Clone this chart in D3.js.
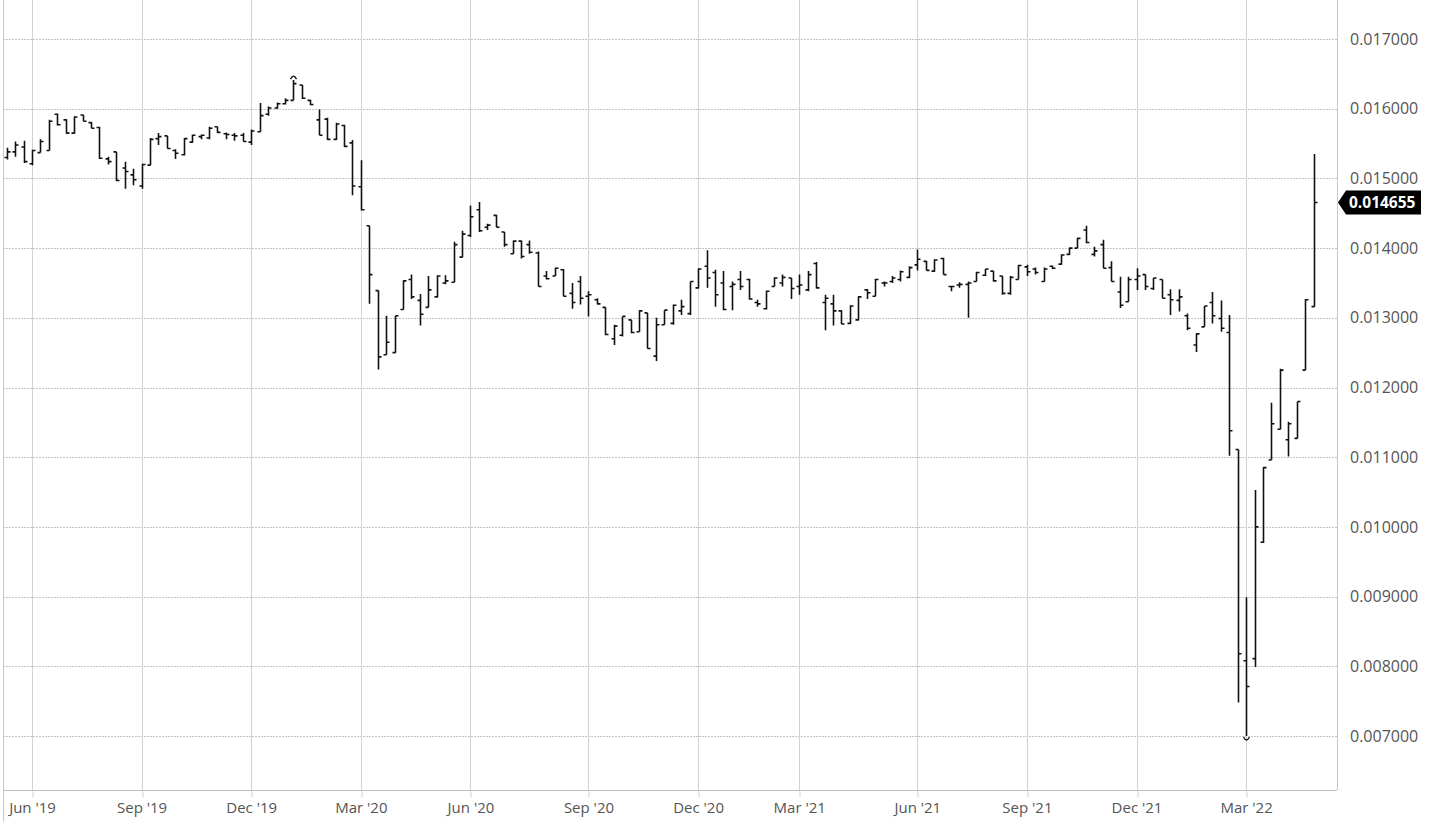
<!DOCTYPE html>
<html>
<head>
<meta charset="utf-8">
<script src="https://cdn.jsdelivr.net/npm/d3@7"></script>
<style>
  body { margin: 0; background: #fff; }
  svg { display: block; font-family: "Open Sans", sans-serif; }
</style>
</head>
<body>
<svg id="chart" width="1430" height="831"></svg>
<script>
// weekly OHLC bars, first bar is the week of 13 May 2019
const firstWeek = new Date(2019, 4, 13);

const openVals = [
  0.01530, 0.01538, 0.01545, 0.01521, 0.01537, 0.01540, 0.01592, 0.01584, 0.01565, 0.01591,
  0.01580, 0.01573, 0.01528, 0.01538, 0.01515, 0.01505, 0.01489, 0.01519, 0.01557, 0.01561,
  0.01540, 0.01534, 0.01552, 0.01560, 0.01558, 0.01574, 0.01564, 0.01562, 0.01562, 0.01552,
  0.01567, 0.01592, 0.01601, 0.01607, 0.01612, 0.01634, 0.01612, 0.01584, 0.01585, 0.01556,
  0.01576, 0.01551, 0.01488, 0.01432, 0.01339, 0.01247, 0.01250, 0.01312, 0.01355, 0.01325,
  0.01315, 0.01330, 0.01350, 0.01351, 0.01387, 0.01418, 0.01455, 0.01430, 0.01447, 0.01423,
  0.01392, 0.01410, 0.01405, 0.01393, 0.01360, 0.01360, 0.01369, 0.01335, 0.01352, 0.01331,
  0.01326, 0.01315, 0.01270, 0.01275, 0.01297, 0.01280, 0.01307, 0.01245, 0.01290, 0.01292,
  0.01310, 0.01306, 0.01343, 0.01374, 0.01365, 0.01350, 0.01345, 0.01355, 0.01355, 0.01322,
  0.01313, 0.01345, 0.01350, 0.01357, 0.01345, 0.01340, 0.01378, 0.01322, 0.01320, 0.01310,
  0.01292, 0.01297, 0.01340, 0.01331, 0.01350, 0.01352, 0.01355, 0.01358, 0.01376, 0.01381,
  0.01367, 0.01385, 0.01345, 0.01347, 0.01348, 0.01352, 0.01361, 0.01367, 0.01360, 0.01335,
  0.01355, 0.01373, 0.01370, 0.01352, 0.01374, 0.01377, 0.01391, 0.01400, 0.01426, 0.01391,
  0.01405, 0.01372, 0.01337, 0.01323, 0.01355, 0.01362, 0.01342, 0.01355, 0.01333, 0.01325,
  0.01303, 0.01261, 0.01287, 0.01322, 0.01299, 0.01279, 0.01111, 0.00808, 0.00811, 0.00978,
  0.01096, 0.01140, 0.01125, 0.01127, 0.01225, 0.01316
];
const highVals = [
  0.01544, 0.01553, 0.01554, 0.01541, 0.01556, 0.01584, 0.01593, 0.01585, 0.01589, 0.01591,
  0.01581, 0.01574, 0.01531, 0.01538, 0.01524, 0.01514, 0.01521, 0.01558, 0.01565, 0.01561,
  0.01542, 0.01558, 0.01563, 0.01563, 0.01574, 0.01574, 0.01566, 0.01565, 0.01565, 0.01570,
  0.01608, 0.01603, 0.01609, 0.01615, 0.01641, 0.01634, 0.01613, 0.01599, 0.01587, 0.01580,
  0.01577, 0.01555, 0.01526, 0.01432, 0.01339, 0.01303, 0.01303, 0.01354, 0.01362, 0.01334,
  0.01360, 0.01361, 0.01361, 0.01409, 0.01425, 0.01461, 0.01466, 0.01435, 0.01448, 0.01423,
  0.01411, 0.01411, 0.01411, 0.01395, 0.01367, 0.01372, 0.01370, 0.01350, 0.01360, 0.01338,
  0.01328, 0.01315, 0.01290, 0.01302, 0.01297, 0.01311, 0.01307, 0.01300, 0.01311, 0.01319,
  0.01326, 0.01352, 0.01371, 0.01397, 0.01369, 0.01367, 0.01352, 0.01367, 0.01356, 0.01326,
  0.01339, 0.01358, 0.01362, 0.01357, 0.01362, 0.01367, 0.01380, 0.01333, 0.01333, 0.01311,
  0.01318, 0.01331, 0.01341, 0.01356, 0.01352, 0.01360, 0.01368, 0.01374, 0.01398, 0.01382,
  0.01384, 0.01386, 0.01346, 0.01351, 0.01352, 0.01366, 0.01370, 0.01367, 0.01360, 0.01360,
  0.01376, 0.01376, 0.01372, 0.01372, 0.01375, 0.01391, 0.01401, 0.01415, 0.01432, 0.01402,
  0.01412, 0.01381, 0.01359, 0.01359, 0.01371, 0.01362, 0.01357, 0.01355, 0.01341, 0.01341,
  0.01306, 0.01278, 0.01317, 0.01337, 0.01325, 0.01304, 0.01111, 0.00899, 0.01053, 0.01086,
  0.01178, 0.01227, 0.01151, 0.01180, 0.01327, 0.01535
];
const lowVals = [
  0.01527, 0.01531, 0.01522, 0.01519, 0.01537, 0.01540, 0.01576, 0.01564, 0.01564, 0.01582,
  0.01572, 0.01528, 0.01520, 0.01496, 0.01485, 0.01490, 0.01485, 0.01519, 0.01548, 0.01543,
  0.01528, 0.01533, 0.01551, 0.01556, 0.01556, 0.01565, 0.01556, 0.01554, 0.01553, 0.01548,
  0.01567, 0.01590, 0.01600, 0.01606, 0.01612, 0.01614, 0.01605, 0.01562, 0.01555, 0.01555,
  0.01545, 0.01476, 0.01454, 0.01320, 0.01226, 0.01247, 0.01250, 0.01312, 0.01327, 0.01289,
  0.01315, 0.01329, 0.01348, 0.01351, 0.01387, 0.01416, 0.01423, 0.01426, 0.01430, 0.01402,
  0.01392, 0.01385, 0.01392, 0.01345, 0.01355, 0.01360, 0.01331, 0.01313, 0.01319, 0.01302,
  0.01319, 0.01275, 0.01261, 0.01273, 0.01278, 0.01280, 0.01256, 0.01238, 0.01290, 0.01290,
  0.01304, 0.01304, 0.01342, 0.01343, 0.01316, 0.01311, 0.01311, 0.01340, 0.01326, 0.01316,
  0.01312, 0.01345, 0.01345, 0.01327, 0.01333, 0.01338, 0.01342, 0.01282, 0.01289, 0.01291,
  0.01291, 0.01296, 0.01327, 0.01331, 0.01345, 0.01350, 0.01352, 0.01357, 0.01368, 0.01368,
  0.01366, 0.01362, 0.01338, 0.01343, 0.01300, 0.01352, 0.01360, 0.01352, 0.01333, 0.01333,
  0.01355, 0.01360, 0.01362, 0.01352, 0.01370, 0.01376, 0.01390, 0.01400, 0.01407, 0.01388,
  0.01371, 0.01352, 0.01314, 0.01323, 0.01340, 0.01340, 0.01340, 0.01328, 0.01304, 0.01309,
  0.01282, 0.01251, 0.01287, 0.01292, 0.01280, 0.01102, 0.00748, 0.00700, 0.00799, 0.00977,
  0.01096, 0.01140, 0.01101, 0.01127, 0.01225, 0.01316
];
const closeVals = [
  0.01538, 0.01548, 0.01524, 0.01540, 0.01553, 0.01582, 0.01577, 0.01565, 0.01588, 0.01582,
  0.01572, 0.01529, 0.01524, 0.01497, 0.01510, 0.01498, 0.01520, 0.01556, 0.01560, 0.01543,
  0.01536, 0.01557, 0.01562, 0.01562, 0.01572, 0.01566, 0.01563, 0.01561, 0.01553, 0.01568,
  0.01590, 0.01601, 0.01607, 0.01612, 0.01636, 0.01615, 0.01606, 0.01562, 0.01556, 0.01578,
  0.01546, 0.01489, 0.01455, 0.01362, 0.01244, 0.01265, 0.01303, 0.01353, 0.01330, 0.01305,
  0.01340, 0.01360, 0.01353, 0.01405, 0.01420, 0.01445, 0.01425, 0.01433, 0.01430, 0.01405,
  0.01410, 0.01388, 0.01394, 0.01345, 0.01356, 0.01371, 0.01331, 0.01322, 0.01328, 0.01333,
  0.01320, 0.01276, 0.01288, 0.01302, 0.01279, 0.01310, 0.01256, 0.01290, 0.01311, 0.01318,
  0.01316, 0.01352, 0.01370, 0.01357, 0.01333, 0.01312, 0.01348, 0.01345, 0.01327, 0.01320,
  0.01338, 0.01357, 0.01358, 0.01342, 0.01347, 0.01362, 0.01343, 0.01328, 0.01310, 0.01291,
  0.01317, 0.01330, 0.01336, 0.01355, 0.01350, 0.01357, 0.01366, 0.01372, 0.01384, 0.01368,
  0.01383, 0.01362, 0.01345, 0.01348, 0.01350, 0.01365, 0.01370, 0.01353, 0.01335, 0.01358,
  0.01375, 0.01366, 0.01365, 0.01370, 0.01371, 0.01390, 0.01400, 0.01414, 0.01408, 0.01396,
  0.01371, 0.01352, 0.01318, 0.01355, 0.01360, 0.01345, 0.01357, 0.01328, 0.01326, 0.01330,
  0.01285, 0.01277, 0.01317, 0.01303, 0.01285, 0.01138, 0.00818, 0.00771, 0.01000, 0.01085,
  0.01148, 0.01225, 0.01148, 0.01180, 0.01326, 0.014655
];

const yTicks = [0.007, 0.008, 0.009, 0.010, 0.011, 0.012, 0.013, 0.014, 0.015, 0.016, 0.017];
const xTickLabels = ["Jun '19", "Sep '19", "Dec '19", "Mar '20", "Jun '20", "Sep '20",
                     "Dec '20", "Mar '21", "Jun '21", "Sep '21", "Dec '21", "Mar '22"];
const lastPrice = 0.014655;

const svg = d3.select('#chart');
const left = 3, right = 1337, bottom = 790;

const n = openVals.length;
const dates = d3.timeMonday.range(firstWeek, d3.timeWeek.offset(firstWeek, n));
const fmtMonth = d3.timeFormat("%b '%y");

// bars sit on an index scale (one slot per week)
const x = d3.scaleLinear().domain([-0.44, 157.78]).range([left, right]);
const y = d3.scaleLinear().domain([0.007, 0.017]).range([736, 39]);

// first bar of each labelled month
const tickIdx = xTickLabels.map(function(lab) {
    return dates.findIndex(function(d) { return fmtMonth(d) === lab; });
});

// grid
svg.append('g')
    .selectAll('line')
    .data(yTicks)
    .enter()
    .append('line')
    .attr('x1', left).attr('x2', right)
    .attr('y1', d => Math.round(y(d)) + 0.5)
    .attr('y2', d => Math.round(y(d)) + 0.5)
    .attr('stroke', '#c4c4c4')
    .attr('stroke-dasharray', '2,1');

svg.append('g')
    .selectAll('line')
    .data(tickIdx)
    .enter()
    .append('line')
    .attr('x1', d => Math.round(x(d)) + 0.5)
    .attr('x2', d => Math.round(x(d)) + 0.5)
    .attr('y1', 0).attr('y2', bottom)
    .attr('stroke', '#d2d2d2');

// frame
svg.append('line').attr('x1', left + 0.5).attr('x2', left + 0.5)
    .attr('y1', 0).attr('y2', 822).attr('stroke', '#c8c8c8');
svg.append('line').attr('x1', right + 0.5).attr('x2', right + 0.5)
    .attr('y1', 0).attr('y2', bottom).attr('stroke', '#c8c8c8');

// bottom axis
const xAxis = d3.axisBottom(x)
    .tickValues(tickIdx)
    .tickFormat(i => fmtMonth(dates[i]))
    .tickSize(7)
    .tickPadding(5);

const gx = svg.append('g')
    .attr('transform', 'translate(0,' + (bottom + 0.5) + ')')
    .call(xAxis);
gx.select('.domain').attr('stroke', '#bdbdbd').attr('d', 'M' + left + ',0H' + right);
gx.selectAll('.tick line').attr('stroke', '#d2d2d2')
    .attr('transform', function(d) { return 'translate(' + (Math.round(x(d)) + 0.5 - x(d)) + ',0)'; });
gx.selectAll('.tick text')
    .attr('fill', '#555')
    .style('font-size', '15px')
    .style('font-family', '"Open Sans", sans-serif');

// right axis
const yAxis = d3.axisRight(y)
    .tickValues(yTicks)
    .tickFormat(d3.format('.6f'))
    .tickSize(0)
    .tickPadding(13);

const gy = svg.append('g')
    .attr('transform', 'translate(' + right + ',0)')
    .call(yAxis);
gy.select('.domain').remove();
gy.selectAll('.tick text')
    .attr('fill', '#555')
    .style('font-size', '16px')
    .style('font-family', '"Open Sans", sans-serif');

// OHLC bars
const tickLen = 3;
svg.append('g')
    .selectAll('path')
    .data(d3.range(n))
    .enter()
    .append('path')
    .attr('d', function(i) {
        var cx = Math.round(x(i)) + 0.5;
        return 'M' + cx + ',' + y(highVals[i]) + 'V' + y(lowVals[i]) +
            'M' + (cx - tickLen) + ',' + y(openVals[i]) + 'H' + cx +
            'M' + cx + ',' + y(closeVals[i]) + 'H' + (cx + tickLen);
    })
    .attr('fill', 'none')
    .attr('stroke', '#111')
    .attr('stroke-width', 1.6);

// markers at the highest high and the lowest low
const iMax = d3.maxIndex(highVals);
const iMin = d3.minIndex(lowVals);
var mx = Math.round(x(iMax)) + 0.5, my = y(highVals[iMax]);
svg.append('path')
    .attr('d', 'M' + (mx - 3) + ',' + (my - 1) + 'Q' + mx + ',' + (my - 7) + ' ' + (mx + 3) + ',' + (my - 1))
    .attr('fill', 'none').attr('stroke', '#111').attr('stroke-width', 1.3);
var nx = Math.round(x(iMin)) + 0.5, ny = y(lowVals[iMin]);
svg.append('path')
    .attr('d', 'M' + (nx - 3) + ',' + (ny + 1) + 'Q' + nx + ',' + (ny + 7) + ' ' + (nx + 3) + ',' + (ny + 1))
    .attr('fill', 'none').attr('stroke', '#111').attr('stroke-width', 1.3);

// last price tag
const py = y(lastPrice);
svg.append('path')
    .attr('d', 'M' + (right + 1) + ',' + py + 'L' + (right + 9) + ',' + (py - 12) +
        'H1421V' + (py + 12) + 'H' + (right + 9) + 'Z')
    .attr('fill', '#000');
svg.append('text')
    .attr('x', 1349)
    .attr('y', py)
    .attr('dy', '0.35em')
    .attr('fill', '#fff')
    .style('font-size', '15.5px')
    .style('font-weight', 'bold')
    .text(d3.format('.6f')(lastPrice));
</script>
</body>
</html>
